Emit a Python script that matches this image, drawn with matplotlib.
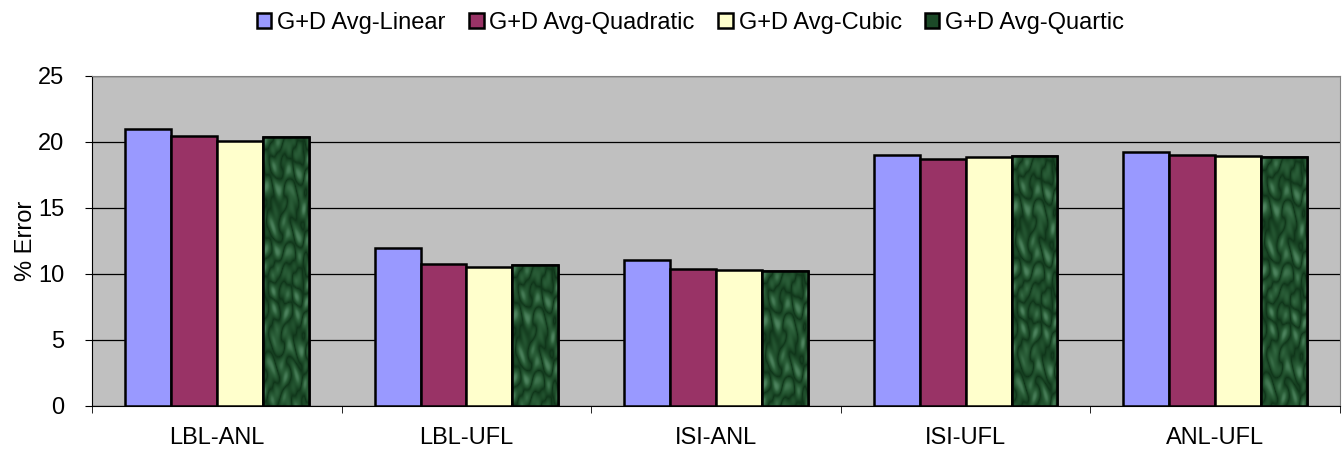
import matplotlib.pyplot as plt
import numpy as np
from matplotlib.colors import LinearSegmentedColormap

plt.rcParams["font.family"] = ["Liberation Sans", "DejaVu Sans"]

categories = ["LBL-ANL", "LBL-UFL", "ISI-ANL", "ISI-UFL", "ANL-UFL"]
series_names = ["G+D Avg-Linear", "G+D Avg-Quadratic", "G+D Avg-Cubic", "G+D Avg-Quartic"]
linear = [21.0, 12.0, 11.05, 19.0, 19.25]
quadratic = [20.45, 10.75, 10.38, 18.7, 19.0]
cubic = [20.05, 10.5, 10.3, 18.85, 18.9]
quartic = [20.4, 10.7, 10.25, 18.9, 18.85]
colors = ["#9999FF", "#993366", "#FFFFCC", "#1C4A28"]

fig = plt.figure(figsize=(13.44, 4.57), dpi=100)
ax = fig.add_axes([0.0685, 0.1116, 0.9285, 0.7224])
ax.set_facecolor("#C0C0C0")

x = np.arange(len(categories))
width = 0.184
groups = []
for i, (vals, name, c) in enumerate(zip([linear, quadratic, cubic, quartic], series_names, colors)):
    bars = ax.bar(x + (i - 1.5) * width, vals, width, color=c, edgecolor="black",
                  linewidth=1.8, label=name, zorder=3)
    groups.append(bars)

# mottled green "marble" fill for the quartic bars
marble = LinearSegmentedColormap.from_list("marble", ["#0F3419", "#1C4A28", "#2C603A", "#4F8560"])
gy, gx = np.mgrid[0:240, 0:46].astype(float)
tex = (np.sin(gx * 0.23 + gy * 0.13 + np.sin(gy * 0.05) * 2.0)
       + 0.7 * np.sin(gx * 0.41 - gy * 0.17 + np.cos(gx * 0.09) * 1.5)
       + 0.5 * np.sin(gy * 0.29 + np.sin(gx * 0.3) * 2.2))
tex = np.abs(tex) ** 0.8
for bar in groups[3]:
    bx, by, bw, bh = bar.get_x(), bar.get_y(), bar.get_width(), bar.get_height()
    rows = int(240 * bh / 21)
    im = ax.imshow(tex[:max(rows, 2)], cmap=marble, extent=[bx, bx + bw, by, by + bh],
                   aspect="auto", zorder=3.2, interpolation="bilinear")
    im.set_clip_path(bar)
    ax.bar(bx + bw / 2, bh, bw, fill=False, edgecolor="black", linewidth=1.8, zorder=3.4)

ax.set_xlim(-0.5, len(categories) - 0.5)
ax.set_ylim(0, 25)
ax.set_yticks(range(0, 26, 5))
ax.yaxis.grid(True, color="black", linewidth=0.9, zorder=0)
ax.set_axisbelow(True)

ax.set_xticks(x)
ax.set_xticklabels(categories)
ax.set_xticks(np.arange(-0.5, len(categories)), minor=True)
ax.tick_params(axis="x", which="major", length=0, labelsize=17, pad=15)
ax.tick_params(axis="x", which="minor", length=5, direction="out")
ax.tick_params(axis="y", labelsize=17, length=5, direction="out", pad=15)
ax.set_ylabel("% Error", fontsize=17, labelpad=1)

for side in ["top", "right"]:
    ax.spines[side].set_color("#808080")
ax.spines["left"].set_color("black")
ax.spines["bottom"].set_color("black")

fig.legend(loc="upper center", bbox_to_anchor=(0.514, 1.02), ncol=4, frameon=False,
           fontsize=17, handlelength=0.6, handleheight=0.6, handletextpad=0.25,
           columnspacing=1.0)

fig.savefig("out.png", dpi=100)
